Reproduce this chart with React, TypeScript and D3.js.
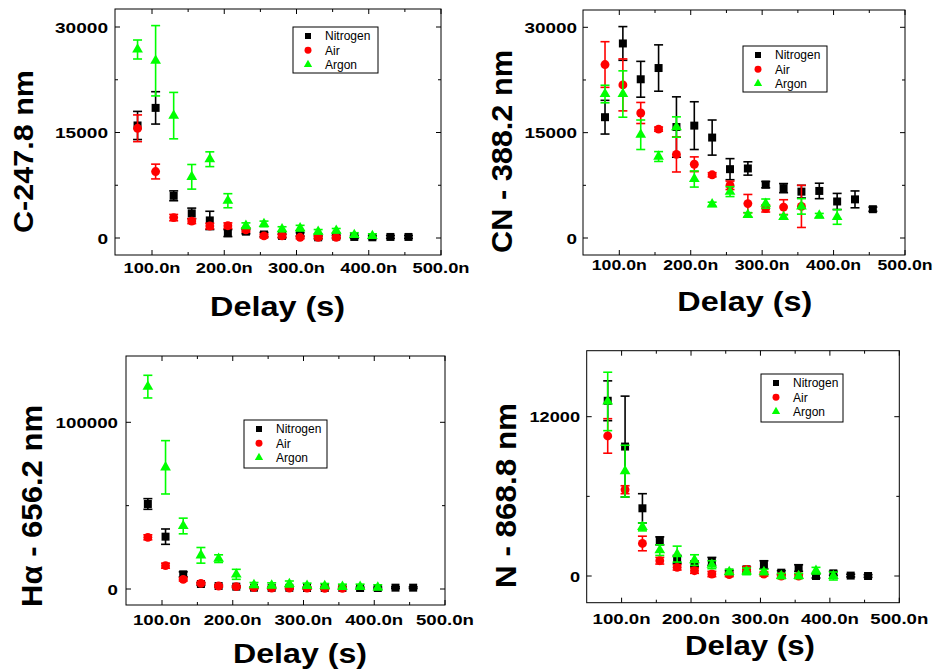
import React from 'react'
import * as d3 from 'd3'

// delay times in ns
const delays = [80, 105, 130, 155, 180, 205, 230, 255, 280, 305, 330, 355, 380, 405, 430, 455]
const gases = ['Nitrogen', 'Air', 'Argon']
const xMajor = [100, 200, 300, 400, 500]
const xMinor = [150, 250, 350, 450]

// C - 247.8 nm
const cNitrogen = [16000, 18500, 6000, 3500, 2500, 700, 900, 500, 300, 500, 100, 200, 150, 100, 150, 150]
const cNitrogenErr = [2000, 2300, 700, 750, 1300, 500, 300, 300, 250, 250, 200, 200, 200, 200, 200, 200]
const cAir = [15600, 9450, 2900, 2400, 1700, 1750, 1150, 300, 300, 100, 100, 100]
const cAirErr = [1900, 1050, 450, 350, 400, 400, 300, 250, 250, 200, 200, 200]
const cArgon = [26800, 25200, 17400, 8700, 11200, 5300, 1750, 2000, 1250, 1400, 900, 1050, 450, 300]
const cArgonErr = [1350, 5000, 3300, 1750, 1050, 1000, 400, 400, 350, 400, 300, 300, 300, 300]

// CN - 388.2 nm
const cnNitrogen = [17200, 27700, 22600, 24200, 15800, 16000, 14300, 9800, 9900, 7600, 7100, 6600, 6700, 5200, 5500, 4100]
const cnNitrogenErr = [2400, 2400, 2550, 3300, 4300, 3400, 2500, 1500, 950, 450, 650, 900, 1100, 1150, 1200, 300]
const cnAir = [24700, 21800, 17800, 15500, 11900, 10500, 9000, 7500, 4900, 4200, 4400, 4500]
const cnAirErr = [3250, 3700, 1500, 300, 2500, 1050, 300, 600, 1300, 500, 1050, 3000]
const cnArgon = [20500, 20500, 14700, 11600, 15800, 8400, 4800, 6600, 3300, 4900, 3000, 4500, 3200, 3000]
const cnArgonErr = [1250, 3300, 2100, 700, 1450, 1150, 300, 700, 300, 650, 300, 1100, 300, 1050]

// H-alpha - 656.2 nm
const hNitrogen = [51000, 31400, 8800, 3000, 1800, 1400, 800, 700, 700, 600, 600, 600, 600, 600, 800, 800]
const hNitrogenErr = [3200, 4600, 1500, 800, 500, 500, 500, 500, 500, 500, 500, 500, 500, 500, 500, 500]
const hAir = [31000, 14000, 5800, 3400, 1800, 1400, 800, 600, 600, 500, 400, 400]
const hAirErr = [1500, 1500, 1000, 600, 500, 500, 500, 500, 500, 500, 500, 500]
const hArgon = [121400, 73000, 37800, 20200, 18200, 8800, 2400, 2200, 3000, 2000, 1800, 1400, 1400, 1000]
const hArgonErr = [6800, 16000, 4700, 4700, 2300, 3000, 1500, 1500, 1800, 1500, 1500, 1500, 1500, 1500]

// N - 868.8 nm
const nNitrogen = [13200, 9750, 5100, 2650, 1250, 900, 1100, 250, 500, 850, 250, 600, 0, 200, 30, 0]
const nNitrogenErr = [1500, 3800, 1100, 300, 300, 200, 300, 150, 200, 300, 150, 250, 150, 150, 100, 100]
const nAir = [10550, 6500, 2450, 1150, 650, 400, 150, 100, 500, 150, 0, 0]
const nAirErr = [1300, 300, 550, 250, 200, 200, 200, 150, 200, 150, 150, 150]
const nArgon = [13150, 7900, 3700, 1950, 1650, 1200, 850, 300, 350, 300, 0, 0, 400, 0]
const nArgonErr = [2200, 1950, 300, 400, 600, 400, 300, 200, 250, 200, 200, 200, 250, 300]

const colors = ['#000000', '#ff0000', '#00ff00']
const shapes = [d3.symbolSquare, d3.symbolCircle, d3.symbolTriangle]
const markSize = [64, 62, 50]
const legendSize = [36, 38, 30]
const FONT = 'Liberation Sans, Arial, Helvetica, sans-serif'

const panels = [
  {
    title: 'C-247.8 nm', titleX: 33, titleY: 151.5, titleSize: 27, titleLen: 163,
    frame: { l: 115, r: 441, t: 9, b: 255 }, x100: 152, x500: 441,
    yMax: 30000, y0: 238, yMaxPx: 27, yTicks: [0, 15000, 30000], yMinor: [7500, 22500],
    yLabelRight: 108, charW: 10.6, xLabelY: 273, xLabelLen: 57,
    delayX: 277.5, delayY: 316, delayLen: 135,
    legend: { x: 293, y: 27, w: 85, h: 46 },
    series: [[cNitrogen, cNitrogenErr], [cAir, cAirErr], [cArgon, cArgonErr]],
  },
  {
    title: 'CN - 388.2 nm', titleX: 512, titleY: 151.5, titleSize: 29, titleLen: 203,
    frame: { l: 583, r: 905, t: 10, b: 255 }, x100: 619.3, x500: 905,
    yMax: 30000, y0: 238, yMaxPx: 27.3, yTicks: [0, 15000, 30000], yMinor: [7500, 22500],
    yLabelRight: 577, charW: 10.5, xLabelY: 270, xLabelLen: 55,
    delayX: 744.8, delayY: 311, delayLen: 135,
    legend: { x: 743, y: 46, w: 84, h: 46 },
    series: [[cnNitrogen, cnNitrogenErr], [cnAir, cnAirErr], [cnArgon, cnArgonErr]],
  },
  {
    title: 'H\u03b1 - 656.2 nm', titleX: 41.5, titleY: 506, titleSize: 29, titleLen: 202,
    frame: { l: 126, r: 445, t: 356, b: 605 }, x100: 162, x500: 445,
    yMax: 100000, y0: 589, yMaxPx: 422.3, yTicks: [0, 100000], yMinor: [50000],
    yLabelRight: 118, charW: 10.4, xLabelY: 625, xLabelLen: 58,
    delayX: 300, delayY: 663, delayLen: 134,
    legend: { x: 244, y: 420, w: 83, h: 48 },
    series: [[hNitrogen, hNitrogenErr], [hAir, hAirErr], [hArgon, hArgonErr]],
  },
  {
    title: 'N - 868.8 nm', titleX: 516, titleY: 495.5, titleSize: 30, titleLen: 185,
    frame: { l: 586.7, r: 899.3, t: 350.7, b: 602.7 }, x100: 621.6, x500: 899.3,
    yMax: 12000, y0: 576, yMaxPx: 416.7, yTicks: [0, 12000], yMinor: [6000],
    yLabelRight: 580, charW: 10.1, xLabelY: 624, xLabelLen: 58,
    delayX: 750, delayY: 655, delayLen: 130,
    legend: { x: 761, y: 374, w: 82, h: 48 },
    series: [[nNitrogen, nNitrogenErr], [nAir, nAirErr], [nArgon, nArgonErr]],
  },
]

function Panel({ p }: { p: any }) {
  const x = d3.scaleLinear().domain([100, 500]).range([p.x100, p.x500])
  const y = d3.scaleLinear().domain([0, p.yMax]).range([p.y0, p.yMaxPx])
  const f = p.frame
  const major = 5
  const minor = 3
  return (
    <g>
      {/* series: error bars then markers */}
      {p.series.map((s: number[][], si: number) => {
        const vals = s[0]
        const errs = s[1]
        const sym = d3.symbol().type(shapes[si]).size(markSize[si])()
        return (
          <g key={si}>
            {vals.map((v, i) => {
              const cx = x(delays[i])
              const yt = y(v + errs[i])
              const yb = y(v - errs[i])
              return (
                <g key={i} stroke={colors[si]} strokeWidth={1.6}>
                  <line x1={cx} x2={cx} y1={yt} y2={yb} />
                  <line x1={cx - 4.5} x2={cx + 4.5} y1={yt} y2={yt} />
                  <line x1={cx - 4.5} x2={cx + 4.5} y1={yb} y2={yb} />
                </g>
              )
            })}
            {vals.map((v, i) => (
              <path key={'m' + i} d={sym || ''} fill={colors[si]}
                transform={`translate(${x(delays[i])},${y(v)})`} />
            ))}
          </g>
        )
      })}
      {/* frame */}
      <rect x={f.l} y={f.t} width={f.r - f.l} height={f.b - f.t} fill="none" stroke="#000" strokeWidth={1} />
      {xMajor.map(t => (
        <g key={'xM' + t} stroke="#000">
          <line x1={x(t)} x2={x(t)} y1={f.b} y2={f.b - major} />
          <line x1={x(t)} x2={x(t)} y1={f.t} y2={f.t + major} />
        </g>
      ))}
      {xMinor.map(t => (
        <g key={'xm' + t} stroke="#000">
          <line x1={x(t)} x2={x(t)} y1={f.b} y2={f.b - minor} />
          <line x1={x(t)} x2={x(t)} y1={f.t} y2={f.t + minor} />
        </g>
      ))}
      {p.yTicks.map((t: number) => (
        <g key={'yM' + t} stroke="#000">
          <line x1={f.l} x2={f.l + major} y1={y(t)} y2={y(t)} />
          <line x1={f.r} x2={f.r - major} y1={y(t)} y2={y(t)} />
        </g>
      ))}
      {p.yMinor.map((t: number) => (
        <g key={'ym' + t} stroke="#000">
          <line x1={f.l} x2={f.l + minor} y1={y(t)} y2={y(t)} />
          <line x1={f.r} x2={f.r - minor} y1={y(t)} y2={y(t)} />
        </g>
      ))}
      {/* tick labels */}
      {p.yTicks.map((t: number) => {
        const s = String(t)
        return (
          <text key={'yl' + t} x={p.yLabelRight} y={y(t) + 5.5} textAnchor="end"
            fontFamily={FONT} fontWeight="bold" fontSize={15}
            textLength={s.length * p.charW} lengthAdjust="spacingAndGlyphs">{s}</text>
        )
      })}
      {xMajor.map(t => (
        <text key={'xl' + t} x={x(t)} y={p.xLabelY} textAnchor="middle"
          fontFamily={FONT} fontWeight="bold" fontSize={15}
          textLength={p.xLabelLen} lengthAdjust="spacingAndGlyphs">{t.toFixed(1) + 'n'}</text>
      ))}
      {/* axis titles */}
      <text x={p.delayX} y={p.delayY} textAnchor="middle" fontFamily={FONT} fontWeight="bold"
        fontSize={27} textLength={p.delayLen} lengthAdjust="spacingAndGlyphs">Delay (s)</text>
      <text transform={`translate(${p.titleX},${p.titleY}) rotate(-90)`} textAnchor="middle"
        fontFamily={FONT} fontWeight="bold" fontSize={p.titleSize}
        textLength={p.titleLen} lengthAdjust="spacingAndGlyphs">{p.title}</text>
      {/* legend */}
      <rect x={p.legend.x} y={p.legend.y} width={p.legend.w} height={p.legend.h}
        fill="#fff" stroke="#000" strokeWidth={1} />
      {gases.map((g, gi) => {
        const ly = p.legend.y + 9 + gi * 14.3
        return (
          <g key={g}>
            <path d={d3.symbol().type(shapes[gi]).size(legendSize[gi])() || ''} fill={colors[gi]}
              transform={`translate(${p.legend.x + 15},${ly})`} />
            <text x={p.legend.x + 32} y={ly + 4.3} fontFamily={FONT} fontSize={12}>{g}</text>
          </g>
        )
      })}
    </g>
  )
}

export default function App() {
  return (
    <svg width={935} height={670} style={{ position: 'absolute', left: 0, top: 0, background: '#fff' }}>
      <rect width={935} height={670} fill="#fff" />
      {panels.map((p, i) => <Panel key={i} p={p} />)}
    </svg>
  )
}
